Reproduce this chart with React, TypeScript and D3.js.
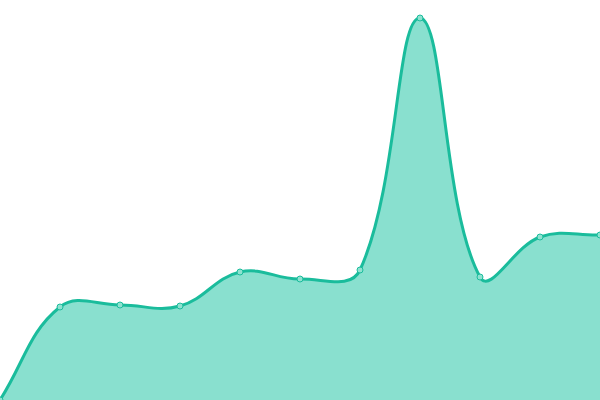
import React from "react";
import * as d3 from "d3";

const categories = [0, 1, 2, 3, 4, 5, 6, 7, 8, 9, 10];
const values = [0, 93, 95, 94, 128, 121, 130, 382, 123, 163, 165];

const W = 600;
const H = 400;
const TENSION = 0.4;

type P = { x: number; y: number };

function splinePath(pts: P[]): string {
  const n = pts.length;
  const cps: { prev: P; next: P }[] = [];
  const cap = (p: P): P => ({
    x: Math.max(0, Math.min(W, p.x)),
    y: Math.max(0, Math.min(H, p.y)),
  });
  for (let i = 0; i < n; i++) {
    const cur = pts[i];
    const pr = pts[Math.max(0, i - 1)];
    const nx = pts[Math.min(n - 1, i + 1)];
    const d01 = Math.hypot(cur.x - pr.x, cur.y - pr.y);
    const d12 = Math.hypot(nx.x - cur.x, nx.y - cur.y);
    let s01 = d01 / (d01 + d12);
    let s12 = d12 / (d01 + d12);
    if (isNaN(s01)) s01 = 0;
    if (isNaN(s12)) s12 = 0;
    const fa = TENSION * s01;
    const fb = TENSION * s12;
    cps.push({
      prev: cap({ x: cur.x - fa * (nx.x - pr.x), y: cur.y - fa * (nx.y - pr.y) }),
      next: cap({ x: cur.x + fb * (nx.x - pr.x), y: cur.y + fb * (nx.y - pr.y) }),
    });
  }
  let d = `M${pts[0].x},${pts[0].y}`;
  for (let i = 1; i < n; i++) {
    const a = cps[i - 1].next;
    const b = cps[i].prev;
    d += `C${a.x},${a.y},${b.x},${b.y},${pts[i].x},${pts[i].y}`;
  }
  return d;
}

export default function App() {
  const x = d3.scaleLinear().domain([0, categories.length - 1]).range([0, W]);
  const y = d3.scaleLinear().domain([0, 400]).range([H, 0]);
  const pts = categories.map((c, i) => ({ x: x(c), y: y(values[i]) }));
  const linePath = splinePath(pts);
  const areaPath = `${linePath}L${pts[pts.length - 1].x},${y(0)}L${pts[0].x},${y(0)}Z`;
  return (
    <svg
      width={W}
      height={H}
      style={{ position: "fixed", left: 0, top: 0, display: "block" }}
    >
      <path d={areaPath} fill="#89e0cf" />
      <path d={linePath} fill="none" stroke="#1abc9c" strokeWidth={3} />
      {pts.map((p, i) => (
        <circle
          key={i}
          cx={p.x}
          cy={p.y}
          r={3}
          fill="#8ee2d0"
          stroke="#1abc9c"
          strokeWidth={1}
        />
      ))}
    </svg>
  );
}
